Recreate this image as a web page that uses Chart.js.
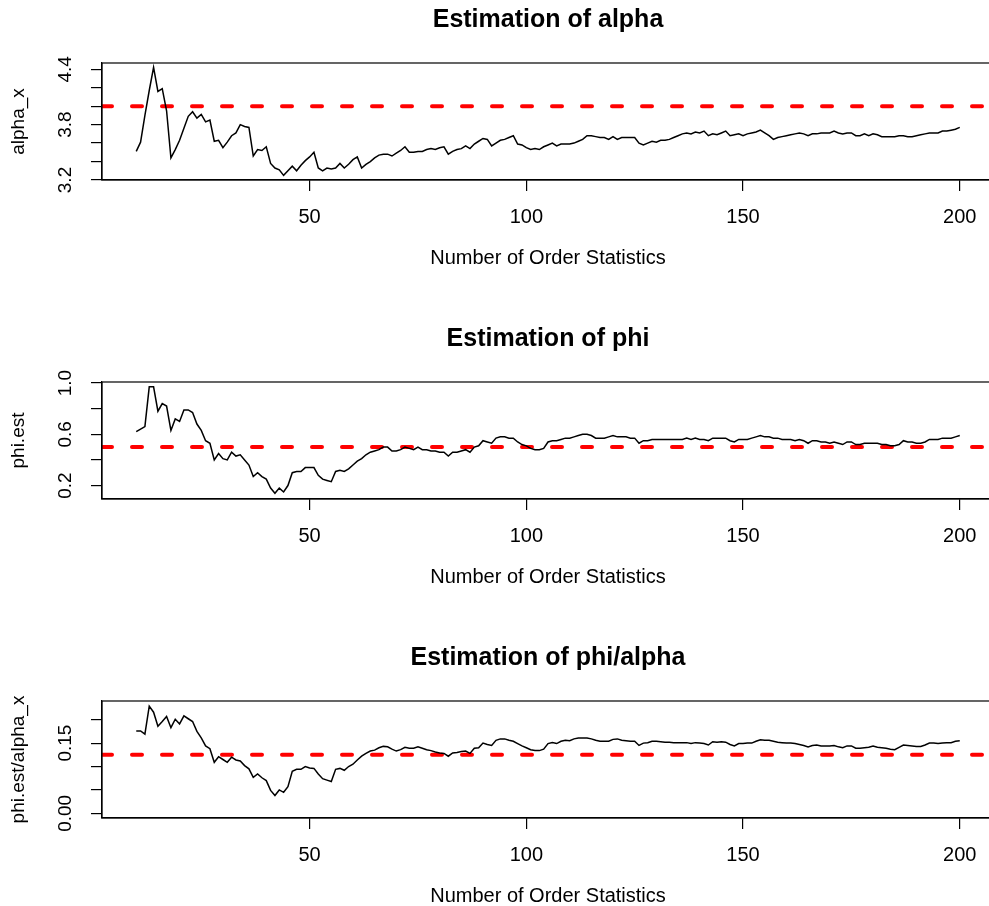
<!DOCTYPE html>
<html>
<head>
<meta charset="utf-8">
<script src="https://cdn.jsdelivr.net/npm/chart.js@4.4.1/dist/chart.umd.min.js"></script>
<style>
  html, body { margin: 0; padding: 0; background: #fff; overflow: hidden; width: 989px; height: 906px; }
  .panel { position: absolute; left: 0; width: 1094px; height: 320px; }
</style>
</head>
<body>
<div class="panel" style="top:0px"><canvas id="alphaChart"></canvas></div>
<div class="panel" style="top:319px"><canvas id="phiChart"></canvas></div>
<div class="panel" style="top:638px"><canvas id="ratioChart"></canvas></div>
<script>
// Number of order statistics k (x values)
var orderStats = [
  10, 11, 12, 13, 14, 15, 16, 17, 18, 19, 20, 21, 22, 23, 24, 25, 26, 27, 28, 29,
  30, 31, 32, 33, 34, 35, 36, 37, 38, 39, 40, 41, 42, 43, 44, 45, 46, 47, 48, 49,
  50, 51, 52, 53, 54, 55, 56, 57, 58, 59, 60, 61, 62, 63, 64, 65, 66, 67, 68, 69,
  70, 71, 72, 73, 74, 75, 76, 77, 78, 79, 80, 81, 82, 83, 84, 85, 86, 87, 88, 89,
  90, 91, 92, 93, 94, 95, 96, 97, 98, 99, 100, 101, 102, 103, 104, 105, 106, 107, 108, 109,
  110, 111, 112, 113, 114, 115, 116, 117, 118, 119, 120, 121, 122, 123, 124, 125, 126, 127, 128, 129,
  130, 131, 132, 133, 134, 135, 136, 137, 138, 139, 140, 141, 142, 143, 144, 145, 146, 147, 148, 149,
  150, 151, 152, 153, 154, 155, 156, 157, 158, 159, 160, 161, 162, 163, 164, 165, 166, 167, 168, 169,
  170, 171, 172, 173, 174, 175, 176, 177, 178, 179, 180, 181, 182, 183, 184, 185, 186, 187, 188, 189,
  190, 191, 192, 193, 194, 195, 196, 197, 198, 199, 200
];

// alpha_x estimates
var alphaEst = [
  3.51, 3.61, 3.90, 4.17, 4.42, 4.16, 4.19, 3.95, 3.44, 3.53, 3.63, 3.76, 3.89, 3.94, 3.87, 3.91, 3.83, 3.85, 3.62, 3.63,
  3.55, 3.61, 3.68, 3.71, 3.80, 3.78, 3.77, 3.46, 3.53, 3.52, 3.56, 3.38, 3.33, 3.31, 3.25, 3.30, 3.35, 3.30, 3.36, 3.41,
  3.45, 3.50, 3.33, 3.30, 3.33, 3.32, 3.33, 3.38, 3.33, 3.37, 3.42, 3.45, 3.33, 3.37, 3.40, 3.44, 3.47, 3.48, 3.48, 3.46,
  3.49, 3.52, 3.56, 3.50, 3.50, 3.51, 3.51, 3.53, 3.54, 3.53, 3.55, 3.56, 3.48, 3.51, 3.53, 3.54, 3.57, 3.54, 3.59, 3.62,
  3.65, 3.64, 3.57, 3.60, 3.63, 3.64, 3.66, 3.68, 3.59, 3.58, 3.55, 3.53, 3.54, 3.53, 3.56, 3.58, 3.60, 3.57, 3.59, 3.59,
  3.59, 3.60, 3.62, 3.64, 3.68, 3.68, 3.67, 3.66, 3.66, 3.64, 3.67, 3.64, 3.66, 3.66, 3.66, 3.66, 3.60, 3.58, 3.60, 3.62,
  3.61, 3.63, 3.63, 3.64, 3.66, 3.68, 3.70, 3.71, 3.70, 3.72, 3.71, 3.73, 3.68, 3.70, 3.69, 3.71, 3.73, 3.68, 3.69, 3.70,
  3.68, 3.70, 3.71, 3.72, 3.74, 3.71, 3.68, 3.64, 3.66, 3.67, 3.68, 3.69, 3.70, 3.71, 3.70, 3.68, 3.70, 3.70, 3.71, 3.71,
  3.71, 3.73, 3.71, 3.70, 3.71, 3.71, 3.68, 3.68, 3.70, 3.68, 3.70, 3.69, 3.67, 3.67, 3.67, 3.67, 3.68, 3.68, 3.67, 3.67,
  3.68, 3.69, 3.70, 3.71, 3.71, 3.71, 3.73, 3.73, 3.74, 3.75, 3.77
];

// phi estimates
var phiEst = [
  0.62, 0.64, 0.66, 0.97, 0.97, 0.78, 0.84, 0.82, 0.63, 0.72, 0.70, 0.79, 0.79, 0.77, 0.68, 0.63, 0.55, 0.53, 0.40, 0.45,
  0.41, 0.40, 0.46, 0.43, 0.44, 0.40, 0.36, 0.27, 0.30, 0.27, 0.25, 0.18, 0.14, 0.18, 0.15, 0.20, 0.30, 0.31, 0.31, 0.34,
  0.34, 0.34, 0.28, 0.25, 0.24, 0.23, 0.31, 0.32, 0.31, 0.33, 0.36, 0.39, 0.41, 0.44, 0.46, 0.47, 0.48, 0.50, 0.50, 0.47,
  0.47, 0.48, 0.50, 0.49, 0.48, 0.50, 0.48, 0.48, 0.47, 0.47, 0.46, 0.46, 0.43, 0.46, 0.46, 0.47, 0.48, 0.46, 0.50, 0.51,
  0.55, 0.54, 0.53, 0.57, 0.58, 0.58, 0.57, 0.57, 0.54, 0.52, 0.51, 0.49, 0.48, 0.48, 0.49, 0.54, 0.55, 0.55, 0.56, 0.57,
  0.57, 0.58, 0.59, 0.60, 0.60, 0.59, 0.57, 0.57, 0.57, 0.58, 0.59, 0.58, 0.58, 0.58, 0.57, 0.57, 0.53, 0.55, 0.55, 0.56,
  0.56, 0.56, 0.56, 0.56, 0.56, 0.56, 0.56, 0.57, 0.56, 0.57, 0.56, 0.56, 0.55, 0.57, 0.57, 0.57, 0.57, 0.55, 0.54, 0.56,
  0.56, 0.56, 0.57, 0.58, 0.59, 0.58, 0.58, 0.57, 0.57, 0.56, 0.56, 0.56, 0.55, 0.56, 0.55, 0.53, 0.55, 0.55, 0.54, 0.54,
  0.53, 0.54, 0.53, 0.52, 0.54, 0.54, 0.52, 0.52, 0.53, 0.53, 0.53, 0.53, 0.52, 0.52, 0.51, 0.51, 0.52, 0.55, 0.54, 0.54,
  0.53, 0.53, 0.54, 0.56, 0.56, 0.56, 0.57, 0.57, 0.57, 0.58, 0.59
];

// phi / alpha_x estimates
var ratioEst = [
  0.176, 0.176, 0.169, 0.229, 0.216, 0.186, 0.196, 0.207, 0.183, 0.201, 0.191, 0.208, 0.202, 0.196, 0.175, 0.161, 0.144, 0.138, 0.109, 0.121,
  0.115, 0.109, 0.120, 0.114, 0.112, 0.102, 0.095, 0.077, 0.084, 0.076, 0.070, 0.049, 0.038, 0.050, 0.045, 0.057, 0.090, 0.094, 0.094, 0.100,
  0.097, 0.096, 0.084, 0.074, 0.071, 0.068, 0.094, 0.096, 0.092, 0.100, 0.105, 0.114, 0.122, 0.128, 0.133, 0.135, 0.140, 0.143, 0.142, 0.137,
  0.133, 0.136, 0.141, 0.139, 0.139, 0.142, 0.139, 0.136, 0.134, 0.131, 0.129, 0.128, 0.122, 0.129, 0.130, 0.132, 0.133, 0.128, 0.139, 0.140,
  0.150, 0.147, 0.145, 0.156, 0.159, 0.159, 0.156, 0.154, 0.149, 0.144, 0.140, 0.136, 0.134, 0.134, 0.137, 0.149, 0.151, 0.149, 0.154, 0.156,
  0.155, 0.159, 0.161, 0.161, 0.161, 0.159, 0.156, 0.154, 0.154, 0.154, 0.158, 0.159, 0.156, 0.155, 0.154, 0.154, 0.145, 0.150, 0.151, 0.154,
  0.154, 0.153, 0.152, 0.152, 0.151, 0.151, 0.151, 0.151, 0.149, 0.151, 0.150, 0.149, 0.146, 0.153, 0.152, 0.153, 0.152, 0.147, 0.144, 0.149,
  0.149, 0.150, 0.150, 0.154, 0.157, 0.156, 0.156, 0.154, 0.152, 0.151, 0.150, 0.150, 0.149, 0.147, 0.145, 0.142, 0.145, 0.146, 0.144, 0.144,
  0.144, 0.145, 0.142, 0.140, 0.144, 0.144, 0.139, 0.139, 0.140, 0.141, 0.144, 0.141, 0.140, 0.139, 0.137, 0.136, 0.141, 0.146, 0.145, 0.144,
  0.143, 0.143, 0.146, 0.150, 0.150, 0.149, 0.150, 0.151, 0.151, 0.154, 0.155
];

// true parameter values (red dashed reference lines)
var alphaTrue = 4.0;
var phiTrue = 0.5;
var ratioTrue = 0.125;

// tick positions and labels
var xTicks = [50, 100, 150, 200];
var alphaTicks = [3.2, 3.4, 3.6, 3.8, 4.0, 4.2, 4.4];
var alphaTickLabels = ["3.2", "", "", "3.8", "", "", "4.4"];
var phiTicks = [0.2, 0.4, 0.6, 0.8, 1.0];
var phiTickLabels = ["0.2", "", "0.6", "", "1.0"];
var ratioTicks = [0.00, 0.05, 0.10, 0.15, 0.20];
var ratioTickLabels = ["0.00", "", "", "0.15", ""];

var FONT = "'Liberation Sans', Arial, Helvetica, sans-serif";
var X_MIN = 2.1, X_MAX = 207.9;
var Y_FONT = 19;

// draws the full box round the plot region, like R's box()
var boxPlugin = {
    id: "rbox",
    afterDraw: function(chart) {
        var a = chart.chartArea;
        var ctx = chart.ctx;
        ctx.save();
        ctx.strokeStyle = "#000";
        ctx.lineWidth = 1.2;
        ctx.strokeRect(a.left, a.top, a.right - a.left, a.bottom - a.top);
        ctx.restore();
    }
};

// widest tick label, so the rotated labels sit at the same distance from the axis in every panel
function widestLabel(labels) {
    var c = document.createElement("canvas").getContext("2d");
    c.font = Y_FONT + "px " + FONT;
    return Math.max.apply(null, labels.map(function(s) { return c.measureText(s).width; }));
}

function makePanel(id, title, yLabel, values, trueValue, yMin, yMax, yTicks, yTickLabels) {
    var ctx = document.getElementById(id).getContext("2d");
    var pts = orderStats.map(function(k, i) { return { x: k, y: values[i] }; });
    var yPad = 25 - widestLabel(yTickLabels) / 2;
    return new Chart(ctx, {
        type: "line",
        data: {
            datasets: [{
                data: pts,
                borderColor: "#000",
                borderWidth: 1.5,
                pointRadius: 0,
                tension: 0,
            }, {
                data: [{ x: X_MIN, y: trueValue }, { x: X_MAX, y: trueValue }],
                borderColor: "#ff0000",
                borderWidth: 4,
                borderDash: [10, 20],
                borderCapStyle: "round",
                pointRadius: 0,
            }],
        },
        options: {
            responsive: true,
            maintainAspectRatio: false,
            animation: false,
            events: [],
            layout: { padding: { left: 0, right: 100, top: 0, bottom: 0 } },
            plugins: {
                legend: { display: false },
                tooltip: { enabled: false },
                title: {
                    display: true,
                    fullSize: false,
                    text: title,
                    color: "#000",
                    font: { family: FONT, size: 25, weight: "bold" },
                    padding: { top: 5, bottom: 28 },
                },
            },
            scales: {
                x: {
                    type: "linear",
                    min: X_MIN,
                    max: X_MAX,
                    afterBuildTicks: function(scale) {
                        scale.ticks = xTicks.map(function(v) { return { value: v }; });
                    },
                    afterFit: function(scale) { scale.height = 140; },
                    ticks: {
                        color: "#000",
                        font: { family: FONT, size: 20 },
                        padding: 14,
                        maxRotation: 0,
                        autoSkip: false,
                    },
                    grid: { drawOnChartArea: false, drawTicks: true, tickLength: 11, color: "#000", lineWidth: 1.2 },
                    border: { display: true, color: "#000", width: 1.2 },
                    title: {
                        display: true,
                        text: "Number of Order Statistics",
                        color: "#000",
                        font: { family: FONT, size: 20 },
                        padding: { top: 0, bottom: 50 },
                    },
                },
                y: {
                    type: "linear",
                    min: yMin,
                    max: yMax,
                    afterBuildTicks: function(scale) {
                        scale.ticks = yTicks.map(function(v) { return { value: v }; });
                    },
                    afterFit: function(scale) { scale.width = 102; },
                    ticks: {
                        color: "#000",
                        font: { family: FONT, size: Y_FONT },
                        padding: yPad,
                        minRotation: 90,
                        maxRotation: 90,
                        crossAlign: "center",
                        autoSkip: false,
                        callback: function(value, index) { return yTickLabels[index]; },
                    },
                    grid: { drawOnChartArea: false, drawTicks: true, tickLength: 11, color: "#000", lineWidth: 1.2 },
                    border: { display: true, color: "#000", width: 1.2 },
                    title: {
                        display: true,
                        text: yLabel,
                        color: "#000",
                        font: { family: FONT, size: Y_FONT },
                        padding: { top: 7, bottom: 0 },
                    },
                },
            },
        },
        plugins: [boxPlugin],
    });
}

makePanel("alphaChart", "Estimation of alpha", "alpha_x", alphaEst, alphaTrue, 3.2, 4.468, alphaTicks, alphaTickLabels);
makePanel("phiChart", "Estimation of phi", "phi.est", phiEst, phiTrue, 0.095, 1.008, phiTicks, phiTickLabels);
makePanel("ratioChart", "Estimation of phi/alpha", "phi.est/alpha_x", ratioEst, ratioTrue, -0.0099, 0.2399, ratioTicks, ratioTickLabels);
</script>
</body>
</html>
